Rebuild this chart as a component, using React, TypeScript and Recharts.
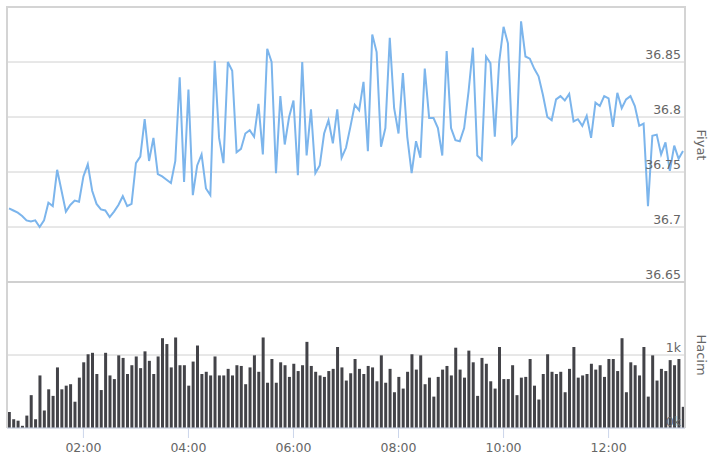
import { Bar, CartesianGrid, ComposedChart, Line, XAxis, YAxis } from "recharts";

// 5-minute candles, first one at 00:35
const FIRST_MINUTE = 35;
const STEP_MINUTES = 5;

const prices = [
  36.717, 36.715, 36.713, 36.71, 36.706, 36.705, 36.706, 36.7, 36.706, 36.722,
  36.719, 36.752, 36.733, 36.714, 36.72, 36.724, 36.723, 36.746, 36.757, 36.733,
  36.721, 36.716, 36.715, 36.709, 36.714, 36.72, 36.728, 36.719, 36.721, 36.758,
  36.764, 36.798, 36.76, 36.781, 36.748, 36.746, 36.743, 36.74, 36.76, 36.836,
  36.741, 36.825, 36.729, 36.756, 36.766, 36.735, 36.729, 36.851, 36.781, 36.758,
  36.85, 36.842, 36.768, 36.771, 36.785, 36.788, 36.782, 36.812, 36.766, 36.862,
  36.85, 36.749, 36.819, 36.775, 36.8, 36.815, 36.747, 36.85, 36.765, 36.807,
  36.749, 36.756, 36.785, 36.797, 36.776, 36.807, 36.763, 36.772, 36.791, 36.811,
  36.806, 36.832, 36.769, 36.875, 36.859, 36.773, 36.79, 36.872, 36.808, 36.785,
  36.84, 36.782, 36.749, 36.778, 36.763, 36.844, 36.799, 36.799, 36.79, 36.765,
  36.86, 36.79, 36.779, 36.778, 36.79, 36.823, 36.863, 36.765, 36.761, 36.855,
  36.849, 36.782, 36.85, 36.882, 36.867, 36.776, 36.782, 36.887, 36.855, 36.853,
  36.844, 36.837, 36.82, 36.8, 36.797, 36.816, 36.819, 36.815, 36.821, 36.796,
  36.798, 36.792, 36.801, 36.781, 36.813, 36.81, 36.819, 36.817, 36.791, 36.822,
  36.808, 36.816, 36.819, 36.81, 36.792, 36.794, 36.719, 36.783, 36.784, 36.766,
  36.777, 36.751, 36.774, 36.762, 36.769,
];

const volumes = [
  220, 120, 100, 30, 170, 450, 120, 720, 240, 530,
  440, 830, 530, 580, 600, 360, 690, 900, 1010, 1030,
  740, 520, 1030, 720, 670, 995, 960, 740, 860, 980,
  820, 1050, 920, 740, 980, 1230, 1150, 830, 1240, 860,
  860, 580, 910, 1130, 740, 770, 720, 980, 720, 720,
  810, 720, 860, 850, 600, 830, 995, 770, 1240, 620,
  945, 620, 900, 860, 700, 880, 780, 860, 1180, 850,
  770, 720, 700, 780, 810, 1110, 830, 650, 750, 945,
  810, 740, 850, 830, 640, 995, 620, 810, 490, 700,
  540, 770, 1010, 800, 995, 600, 690, 430, 700, 800,
  850, 720, 1100, 800, 690, 1060, 900, 440, 960, 880,
  640, 540, 1110, 670, 670, 860, 450, 690, 700, 945,
  580, 390, 740, 1010, 770, 740, 770, 490, 810, 1110,
  690, 720, 740, 880, 800, 860, 700, 945, 945, 780,
  1230, 490, 900, 860, 720, 1110, 430, 995, 650, 810,
  780, 930, 860, 945, 290,
];

const timeTicks = [120, 240, 360, 480, 600, 720];
const priceTicks = [36.65, 36.7, 36.75, 36.8, 36.85, 36.9];
const volumeTicks = [0, 1000, 2000];

const data = prices.map((price, i) => ({
  t: FIRST_MINUTE + i * STEP_MINUTES,
  price,
  volume: volumes[i],
}));

const X_DOMAIN = [32.7, 807.3];
const FONT = '"DejaVu Sans", Verdana, sans-serif';
const LABEL = "#666666";

const fmtTime = (m: number) => {
  const h = Math.floor(m / 60);
  const mm = m % 60;
  return `${String(h).padStart(2, "0")}:${String(mm).padStart(2, "0")}`;
};

const PriceTick = (props: any) => {
  const { y, payload } = props;
  if (payload.value >= 36.9) return <g />;
  return (
    <text x={681} y={y - 3} textAnchor="end" fill={LABEL} fontSize={12.5} fontFamily={FONT}>
      {payload.value}
    </text>
  );
};

const VolumeTick = (props: any) => {
  const { y, payload } = props;
  if (payload.value >= 2000) return <g />;
  return (
    <text
      x={681}
      y={payload.value === 0 ? y - 2 : y - 3}
      textAnchor="end"
      fill={LABEL}
      fontSize={12.5}
      fontFamily={FONT}
    >
      {payload.value / 1000 + "k"}
    </text>
  );
};

export default function App() {
  return (
    <div
      style={{
        position: "absolute",
        left: 0,
        top: 0,
        width: 709,
        height: 456,
        background: "#fff",
        fontFamily: FONT,
      }}
    >
      <div style={{ position: "absolute", left: 0, top: 0 }}>
        <ComposedChart width={709} height={290} data={data} margin={{ top: 7, right: 23, bottom: 8, left: 7 }}>
          <CartesianGrid vertical={false} stroke="#d0d0d0" />
          <XAxis type="number" dataKey="t" domain={X_DOMAIN} ticks={timeTicks} allowDataOverflow hide />
          <YAxis
            orientation="right"
            width={1}
            domain={[36.65, 36.9]}
            ticks={priceTicks}
            interval={0}
            allowDataOverflow
            axisLine={false}
            tickLine={false}
            tick={PriceTick}
          />
          <Line
            type="linear"
            dataKey="price"
            stroke="#7cb5ec"
            strokeWidth={2}
            dot={false}
            isAnimationActive={false}
          />
        </ComposedChart>
      </div>
      <div style={{ position: "absolute", left: 0, top: 0 }}>
        <ComposedChart width={709} height={456} data={data} margin={{ top: 282, right: 23, bottom: 8, left: 7 }}>
          <CartesianGrid vertical={false} stroke="#d0d0d0" />
          <XAxis
            type="number"
            dataKey="t"
            domain={X_DOMAIN}
            ticks={timeTicks}
            interval={0}
            allowDataOverflow
            tickFormatter={fmtTime}
            height={20}
            tickSize={10}
            tickMargin={5}
            stroke="#ccd6eb"
            tick={{ fill: LABEL, fontSize: 12.5, fontFamily: FONT }}
          />
          <YAxis
            orientation="right"
            width={1}
            domain={[0, 2000]}
            ticks={volumeTicks}
            interval={0}
            allowDataOverflow
            axisLine={false}
            tickLine={false}
            tick={VolumeTick}
          />
          <Bar dataKey="volume" fill="#434348" barSize={3} isAnimationActive={false} />
        </ComposedChart>
      </div>
      <svg width={709} height={456} style={{ position: "absolute", left: 0, top: 0 }}>
        <path d="M7 428 V7 H685 V428" fill="none" stroke="#d4d4d4" strokeWidth={2} />
        <line x1={7} x2={685} y1={282} y2={282} stroke="#d0d0d0" strokeWidth={2} />
        <text
          transform="translate(696.5,145) rotate(90)"
          textAnchor="middle"
          fill={LABEL}
          fontSize={13}
          fontFamily={FONT}
        >
          Fiyat
        </text>
        <text
          transform="translate(696.5,355) rotate(90)"
          textAnchor="middle"
          fill={LABEL}
          fontSize={13}
          fontFamily={FONT}
        >
          Hacim
        </text>
      </svg>
    </div>
  );
}
